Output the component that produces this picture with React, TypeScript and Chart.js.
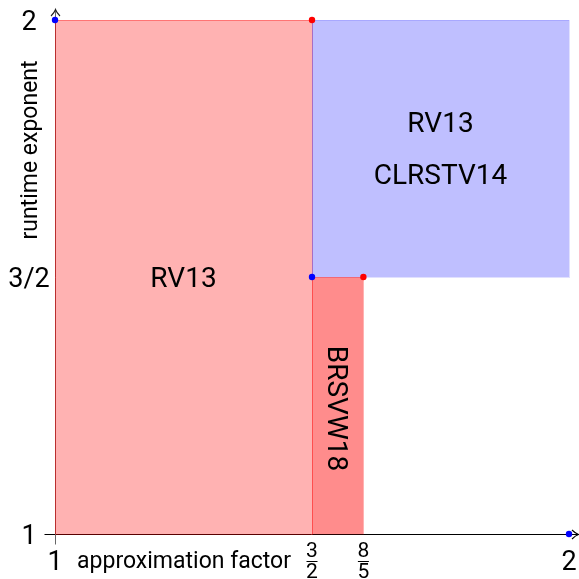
import React, { useEffect, useRef } from "react";
import { Chart, registerables } from "chart.js";

Chart.register(...registerables);

// Regions (approximation factor x runtime exponent)
const regionLabels: string[][] = [["RV13"], ["RV13", "CLRSTV14"], ["BRSVW18"]];
const regionX0 = [1, 1.5, 1.5];
const regionX1 = [1.5, 2, 1.6];
const regionY0 = [1, 1.5, 1];
const regionY1 = [2, 2, 1.5];
const regionFill = ["rgba(255,0,0,0.3)", "rgba(0,0,255,0.25)", "rgba(255,0,0,0.45)"];
const regionStroke = ["rgba(255,0,0,0.35)", "rgba(0,0,255,0.12)", "rgba(255,0,0,0.15)"];
const regionRotated = [false, false, true];

// Corner points
const cornerX = [1, 1.5, 1.5, 1.6, 2];
const cornerY = [2, 2, 1.5, 1.5, 1];
const cornerColors = ["#0000ff", "#ff0000", "#0000ff", "#ff0000", "#0000ff"];

// Ticks
const xTicks = [1, 1.5, 1.6, 2];
const xTickNum = ["1", "3", "8", "2"];
const xTickDen = ["", "2", "5", ""];
const yTicks = [1, 1.5, 2];
const yTickLabels = ["1", "3/2", "2"];

const xTitle = "approximation factor";
const yTitle = "runtime exponent";

const FONT = "Roboto, 'Open Sans', sans-serif";

function capText(ctx: CanvasRenderingContext2D, text: string, cx: number, cy: number, size: number) {
  ctx.font = `${size}px ${FONT}`;
  ctx.textAlign = "center";
  ctx.textBaseline = "alphabetic";
  ctx.fillText(text, cx, cy + size * 0.355);
}

const drawPlugin = {
  id: "drawRegions",
  beforeDatasetsDraw(chart: any) {
    const { ctx, scales } = chart;
    const xs = scales.x;
    const ys = scales.y;
    const px = (v: number) => xs.getPixelForValue(v);
    const py = (v: number) => ys.getPixelForValue(v);
    ctx.save();

    const ox = Math.round(px(1)) + 0.5;
    const oy = Math.round(py(1)) + 0.5;
    const xe = px(2);
    const ye = py(2);

    // axes
    ctx.lineWidth = 1;
    ctx.strokeStyle = "#000";
    ctx.beginPath();
    ctx.moveTo(ox - 11, oy);
    ctx.lineTo(xe + 9, oy);
    ctx.stroke();
    // x arrow
    ctx.lineWidth = 1.1;
    ctx.beginPath();
    ctx.moveTo(xe + 3, oy - 4.5);
    ctx.quadraticCurveTo(xe + 6.5, oy - 1, xe + 9.5, oy);
    ctx.quadraticCurveTo(xe + 6.5, oy + 1, xe + 3, oy + 4.5);
    ctx.stroke();

    ctx.lineWidth = 1;
    ctx.strokeStyle = "#666";
    ctx.beginPath();
    ctx.moveTo(ox, oy + 10);
    ctx.lineTo(ox, ye - 10);
    ctx.stroke();
    ctx.strokeStyle = "#222";
    ctx.lineWidth = 1.1;
    ctx.beginPath();
    ctx.moveTo(ox - 4.5, ye - 4);
    ctx.quadraticCurveTo(ox - 1, ye - 7.5, ox, ye - 10.5);
    ctx.quadraticCurveTo(ox + 1, ye - 7.5, ox + 4.5, ye - 4);
    ctx.stroke();
    ctx.lineWidth = 1;

    // regions
    for (let i = 0; i < regionX0.length; i++) {
      const l = px(regionX0[i]);
      const r = px(regionX1[i]);
      const t = py(regionY1[i]);
      const b = py(regionY0[i]);
      ctx.fillStyle = regionFill[i];
      ctx.fillRect(l, t, r - l, b - t);
      ctx.strokeStyle = regionStroke[i];
      ctx.strokeRect(Math.round(l) + 0.5, Math.round(t) + 0.5, Math.round(r - l), Math.round(b - t));
    }

    // region labels
    ctx.fillStyle = "#000";
    for (let i = 0; i < regionX0.length; i++) {
      const cx = px((regionX0[i] + regionX1[i]) / 2);
      const cy = py((regionY0[i] + regionY1[i]) / 2);
      const lines = regionLabels[i];
      if (regionRotated[i]) {
        ctx.save();
        ctx.translate(cx, cy + 3);
        ctx.rotate(Math.PI / 2);
        capText(ctx, lines[0], 0, 0, 28);
        ctx.restore();
      } else {
        const gap = 52;
        lines.forEach((s, k) => {
          const off = (k - (lines.length - 1) / 2) * gap;
          capText(ctx, s, cx, cy + off, 28);
        });
      }
    }

    // y tick labels
    ctx.fillStyle = "#000";
    yTicks.forEach((v, i) => {
      capText(ctx, yTickLabels[i], 29, py(v), 27);
    });

    // x tick labels
    xTicks.forEach((v, i) => {
      const cx = px(v);
      if (xTickDen[i] === "") {
        capText(ctx, xTickNum[i], cx, oy + 26, 27);
      } else {
        capText(ctx, xTickNum[i], cx, oy + 15, 21);
        capText(ctx, xTickDen[i], cx, oy + 36.5, 21);
        ctx.beginPath();
        ctx.strokeStyle = "#000";
        ctx.lineWidth = 1;
        ctx.moveTo(cx - 5.5, Math.round(oy + 26) + 0.5);
        ctx.lineTo(cx + 5.5, Math.round(oy + 26) + 0.5);
        ctx.stroke();
      }
    });

    // axis titles
    ctx.font = `23px ${FONT}`;
    ctx.textAlign = "center";
    ctx.textBaseline = "alphabetic";
    ctx.fillText(xTitle, 184, oy + 33);
    ctx.save();
    ctx.translate(37, 150);
    ctx.rotate(-Math.PI / 2);
    ctx.fillText(yTitle, 0, 0);
    ctx.restore();

    ctx.restore();
  },
};

export default function App() {
  const ref = useRef<HTMLCanvasElement>(null);
  useEffect(() => {
    if (!ref.current) return;
    const chart = new Chart(ref.current, {
      type: "scatter",
      data: {
        datasets: [
          {
            data: cornerX.map((x, i) => ({ x, y: cornerY[i] })),
            pointBackgroundColor: cornerColors,
            pointBorderWidth: 0,
            pointRadius: 3.2,
            clip: false as any,
          },
        ],
      },
      options: {
        animation: false,
        responsive: false,
        devicePixelRatio: 1,
        layout: { padding: { left: 55, right: 10, top: 20, bottom: 45 } },
        scales: {
          x: { type: "linear", min: 1, max: 2, display: false },
          y: { type: "linear", min: 1, max: 2, display: false },
        },
        plugins: { legend: { display: false }, tooltip: { enabled: false } },
      },
      plugins: [drawPlugin],
    });
    return () => chart.destroy();
  }, []);
  return (
    <div style={{ position: "fixed", left: 0, top: 0, width: 579, height: 579, background: "#fff" }}>
      <canvas ref={ref} width={579} height={579} />
    </div>
  );
}
